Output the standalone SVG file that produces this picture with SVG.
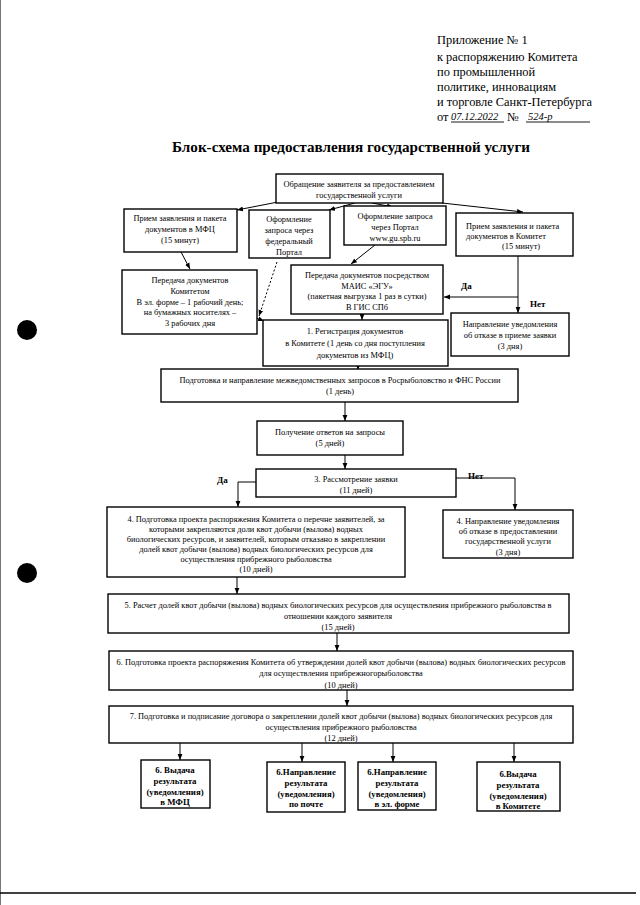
<svg xmlns="http://www.w3.org/2000/svg" width="640" height="905" viewBox="0 0 640 905">
<style>
text{font-family:"Liberation Serif","Times New Roman",Times,"DejaVu Serif",serif}
.b{fill:#fff;stroke:#000;stroke-width:1.4}
.t{font-size:8.4px;fill:#000;text-anchor:middle}
.ts{font-size:8.4px;fill:#000;text-anchor:start}
.tb{font-size:8.8px;fill:#000;text-anchor:middle;font-weight:bold}
.h{font-size:12.4px;fill:#000}
.c{fill:none;stroke:#000;stroke-width:1}
.lbl{font-size:9px;font-weight:bold;fill:#000}
.hw{font-size:10.5px;font-style:italic;fill:#000}
</style>
<defs>
<marker id="ar" viewBox="0 0 10 10" refX="10" refY="5" markerWidth="6" markerHeight="6" orient="auto" markerUnits="userSpaceOnUse">
<path d="M0,1 L10,5 L0,9 z" fill="#000"/>
</marker>
</defs>
<rect width="640" height="905" fill="#fff"/>
<line x1="0.5" y1="0" x2="0.5" y2="905" stroke="#777" stroke-width="1"/>
<line x1="0" y1="893" x2="636" y2="893" stroke="#000" stroke-width="1.5"/>
<circle cx="27" cy="330" r="10" fill="#000"/>
<circle cx="27" cy="573" r="10" fill="#000"/>

<g id="header">
<text class="h" x="437" y="44">Приложение № 1</text>
<text class="h" x="437" y="61">к распоряжению Комитета</text>
<text class="h" x="437" y="76">по промышленной</text>
<text class="h" x="437" y="91">политике, инновациям</text>
<text class="h" x="437" y="106">и торговле Санкт-Петербурга</text>
<text class="h" x="437" y="121">от</text>
<text class="hw" x="451" y="120">07.12.2022</text>
<line x1="451" y1="122" x2="504" y2="122" stroke="#000" stroke-width="0.9"/>
<text class="h" x="507" y="121">№</text>
<text class="hw" x="528" y="120">524-р</text>
<line x1="526" y1="122" x2="590" y2="122" stroke="#000" stroke-width="0.9"/>
</g>

<text x="351" y="152" text-anchor="middle" textLength="358" lengthAdjust="spacingAndGlyphs" style="font-size:15.5px;font-weight:bold">Блок-схема предоставления государственной услуги</text>

<g id="connectors">
<line class="c" x1="278" y1="202" x2="237" y2="210" marker-end="url(#ar)"/>
<line class="c" x1="355" y1="203" x2="329" y2="210" marker-end="url(#ar)"/>
<line class="c" x1="372" y1="203" x2="393" y2="207" marker-end="url(#ar)"/>
<line class="c" x1="442" y1="203" x2="523" y2="212" marker-end="url(#ar)"/>
<line class="c" x1="181" y1="252" x2="190" y2="269" marker-end="url(#ar)"/>
<line class="c" x1="277" y1="262" x2="259" y2="316" stroke-dasharray="2,2" marker-end="url(#ar)"/>
<line class="c" x1="254" y1="317" x2="264" y2="321" marker-end="url(#ar)"/>
<line class="c" x1="375" y1="245" x2="351" y2="264" marker-end="url(#ar)"/>
<line class="c" x1="362" y1="314" x2="362" y2="320" marker-end="url(#ar)"/>
<line class="c" x1="518" y1="256" x2="518" y2="313" marker-end="url(#ar)"/>
<line class="c" x1="518" y1="297" x2="444" y2="297" marker-end="url(#ar)"/>
<line class="c" x1="358" y1="366" x2="358" y2="370" marker-end="url(#ar)"/>
<line class="c" x1="345" y1="402" x2="345" y2="421" marker-end="url(#ar)"/>
<line class="c" x1="345" y1="455" x2="345" y2="469" marker-end="url(#ar)"/>
<polyline class="c" points="256,482 238,482 238,507" marker-end="url(#ar)"/>
<polyline class="c" points="456,478 515,478 515,510" marker-end="url(#ar)"/>
<line class="c" x1="237" y1="577" x2="237" y2="594" marker-end="url(#ar)"/>
<line class="c" x1="337" y1="633" x2="337" y2="651" marker-end="url(#ar)"/>
<line class="c" x1="347" y1="690" x2="347" y2="706" marker-end="url(#ar)"/>
<line class="c" x1="180" y1="743" x2="180" y2="760" marker-end="url(#ar)"/>
<line class="c" x1="302" y1="743" x2="302" y2="762" marker-end="url(#ar)"/>
<line class="c" x1="393" y1="743" x2="393" y2="762" marker-end="url(#ar)"/>
<line class="c" x1="514" y1="743" x2="514" y2="762" marker-end="url(#ar)"/>
<text class="lbl" x="461" y="289">Да</text>
<text class="lbl" x="530" y="307">Нет</text>
<text class="lbl" x="217" y="483">Да</text>
<text class="lbl" x="468" y="479">Нет</text>
</g>

<g id="n1"><rect class="b" x="276" y="174" width="167" height="29"/>
<text class="t" x="359" y="187">Обращение заявителя за предоставлением</text>
<text class="t" x="359" y="198">государственной услуги</text></g>

<g id="n2"><rect class="b" x="124" y="209" width="113" height="43"/>
<text class="t" x="180" y="221">Прием заявления и пакета</text>
<text class="t" x="180" y="232">документов в МФЦ</text>
<text class="t" x="180" y="243">(15 минут)</text></g>

<g id="n3"><rect class="b" x="249" y="210" width="81" height="48"/>
<text class="t" x="289" y="222">Оформление</text>
<text class="t" x="289" y="233">запроса через</text>
<text class="t" x="289" y="244">федеральный</text>
<text class="t" x="289" y="255">Портал</text></g>

<g id="n4"><rect class="b" x="344" y="206" width="102" height="39"/>
<text class="t" x="395" y="219">Оформление запроса</text>
<text class="t" x="395" y="230">через Портал</text>
<text class="t" x="395" y="241">www.gu.spb.ru</text></g>

<g id="n5"><rect class="b" x="456" y="213" width="117" height="43"/>
<text class="ts" x="466" y="229">Прием заявления и пакета</text>
<text class="ts" x="466" y="239">документов в Комитет</text>
<text class="ts" x="502" y="249">(15 минут)</text></g>

<g id="n6"><rect class="b" x="122" y="270" width="135" height="64"/>
<text class="t" x="190" y="283">Передача документов</text>
<text class="t" x="190" y="294">Комитетом</text>
<text class="t" x="190" y="305">В эл. форме – 1  рабочий день;</text>
<text class="t" x="190" y="315">на бумажных носителях –</text>
<text class="t" x="190" y="326">3 рабочих дня</text></g>

<g id="n7"><rect class="b" x="291" y="265" width="152" height="49"/>
<text class="t" x="367" y="278">Передача документов посредством</text>
<text class="t" x="367" y="289">МАИС «ЭГУ»</text>
<text class="t" x="367" y="299">(пакетная выгрузка 1 раз в сутки)</text>
<text class="t" x="367" y="310">В ГИС СПб</text></g>

<g id="n8"><rect class="b" x="263" y="320" width="185" height="46"/>
<text class="t" x="355" y="334">1. Регистрация документов</text>
<text class="t" x="355" y="346">в Комитете (1 день со дня поступления</text>
<text class="t" x="355" y="358">документов из МФЦ)</text></g>

<g id="n9"><rect class="b" x="451" y="313" width="118" height="43"/>
<text class="t" x="510" y="327">Направление уведомления</text>
<text class="t" x="510" y="338">об отказе в приеме заявки</text>
<text class="t" x="510" y="349">(3 дня)</text></g>

<g id="n10"><rect class="b" x="161" y="369" width="357" height="33"/>
<text class="t" x="340" y="383">Подготовка и направление межведомственных запросов в Росрыболовство и ФНС России</text>
<text class="t" x="340" y="394">(1 день)</text></g>

<g id="n11"><rect class="b" x="257" y="421" width="146" height="34"/>
<text class="t" x="330" y="435">Получение ответов на запросы</text>
<text class="t" x="330" y="446">(5 дней)</text></g>

<g id="n12"><rect class="b" x="256" y="469" width="200" height="28"/>
<text class="t" x="356" y="482">3. Рассмотрение заявки</text>
<text class="t" x="356" y="493">(11 дней)</text></g>

<g id="n13"><rect class="b" x="107" y="507" width="298" height="70"/>
<text class="t" x="256" y="522">4. Подготовка проекта распоряжения Комитета о перечне заявителей, за</text>
<text class="t" x="256" y="532">которыми закрепляются доли квот добычи (вылова) водных</text>
<text class="t" x="256" y="542">биологических ресурсов, и заявителей, которым отказано в закреплении</text>
<text class="t" x="256" y="552">долей квот добычи (вылова) водных биологических ресурсов для</text>
<text class="t" x="256" y="562">осуществления прибрежного рыболовства</text>
<text class="t" x="256" y="572">(10 дней)</text></g>

<g id="n14"><rect class="b" x="443" y="510" width="130" height="48"/>
<text class="t" x="508" y="524">4. Направление уведомления</text>
<text class="t" x="508" y="534">об отказе в предоставлении</text>
<text class="t" x="508" y="544">государственной услуги</text>
<text class="t" x="508" y="555">(3 дня)</text></g>

<g id="n15"><rect class="b" x="108" y="594" width="461" height="39"/>
<text class="t" x="338" y="608">5. Расчет долей квот добычи (вылова) водных биологических ресурсов для осуществления прибрежного рыболовства в</text>
<text class="t" x="338" y="619">отношении каждого заявителя</text>
<text class="t" x="338" y="630">(15 дней)</text></g>

<g id="n16"><rect class="b" x="109" y="651" width="464" height="39"/>
<text class="t" x="341" y="665">6. Подготовка проекта распоряжения Комитета об утверждении долей квот добычи (вылова) водных биологических ресурсов</text>
<text class="t" x="341" y="676">для осуществления прибрежногорыболовства</text>
<text class="t" x="341" y="688">(10 дней)</text></g>

<g id="n17"><rect class="b" x="109" y="706" width="464" height="37"/>
<text class="t" x="341" y="719">7. Подготовка и подписание договора о закреплении долей квот добычи (вылова) водных биологических ресурсов для</text>
<text class="t" x="341" y="730">осуществления прибрежного рыболовства</text>
<text class="t" x="341" y="741">(12 дней)</text></g>

<g id="n18"><rect class="b" x="141" y="760" width="69" height="48"/>
<text class="tb" x="175" y="773">6. Выдача</text>
<text class="tb" x="175" y="784">результата</text>
<text class="tb" x="175" y="795">(уведомления)</text>
<text class="tb" x="175" y="805">в МФЦ</text></g>

<g id="n19"><rect class="b" x="267" y="762" width="78" height="50"/>
<text class="tb" x="306" y="775">6.Направление</text>
<text class="tb" x="306" y="786">результата</text>
<text class="tb" x="306" y="797">(уведомления)</text>
<text class="tb" x="306" y="807">по почте</text></g>

<g id="n20"><rect class="b" x="358" y="762" width="78" height="48"/>
<text class="tb" x="397" y="775">6.Направление</text>
<text class="tb" x="397" y="786">результата</text>
<text class="tb" x="397" y="797">(уведомления)</text>
<text class="tb" x="397" y="807">в эл. форме</text></g>

<g id="n21"><rect class="b" x="477" y="762" width="83" height="49"/>
<text class="tb" x="518" y="777">6.Выдача</text>
<text class="tb" x="518" y="788">результата</text>
<text class="tb" x="518" y="799">(уведомления)</text>
<text class="tb" x="518" y="809">в Комитете</text></g>
</svg>
